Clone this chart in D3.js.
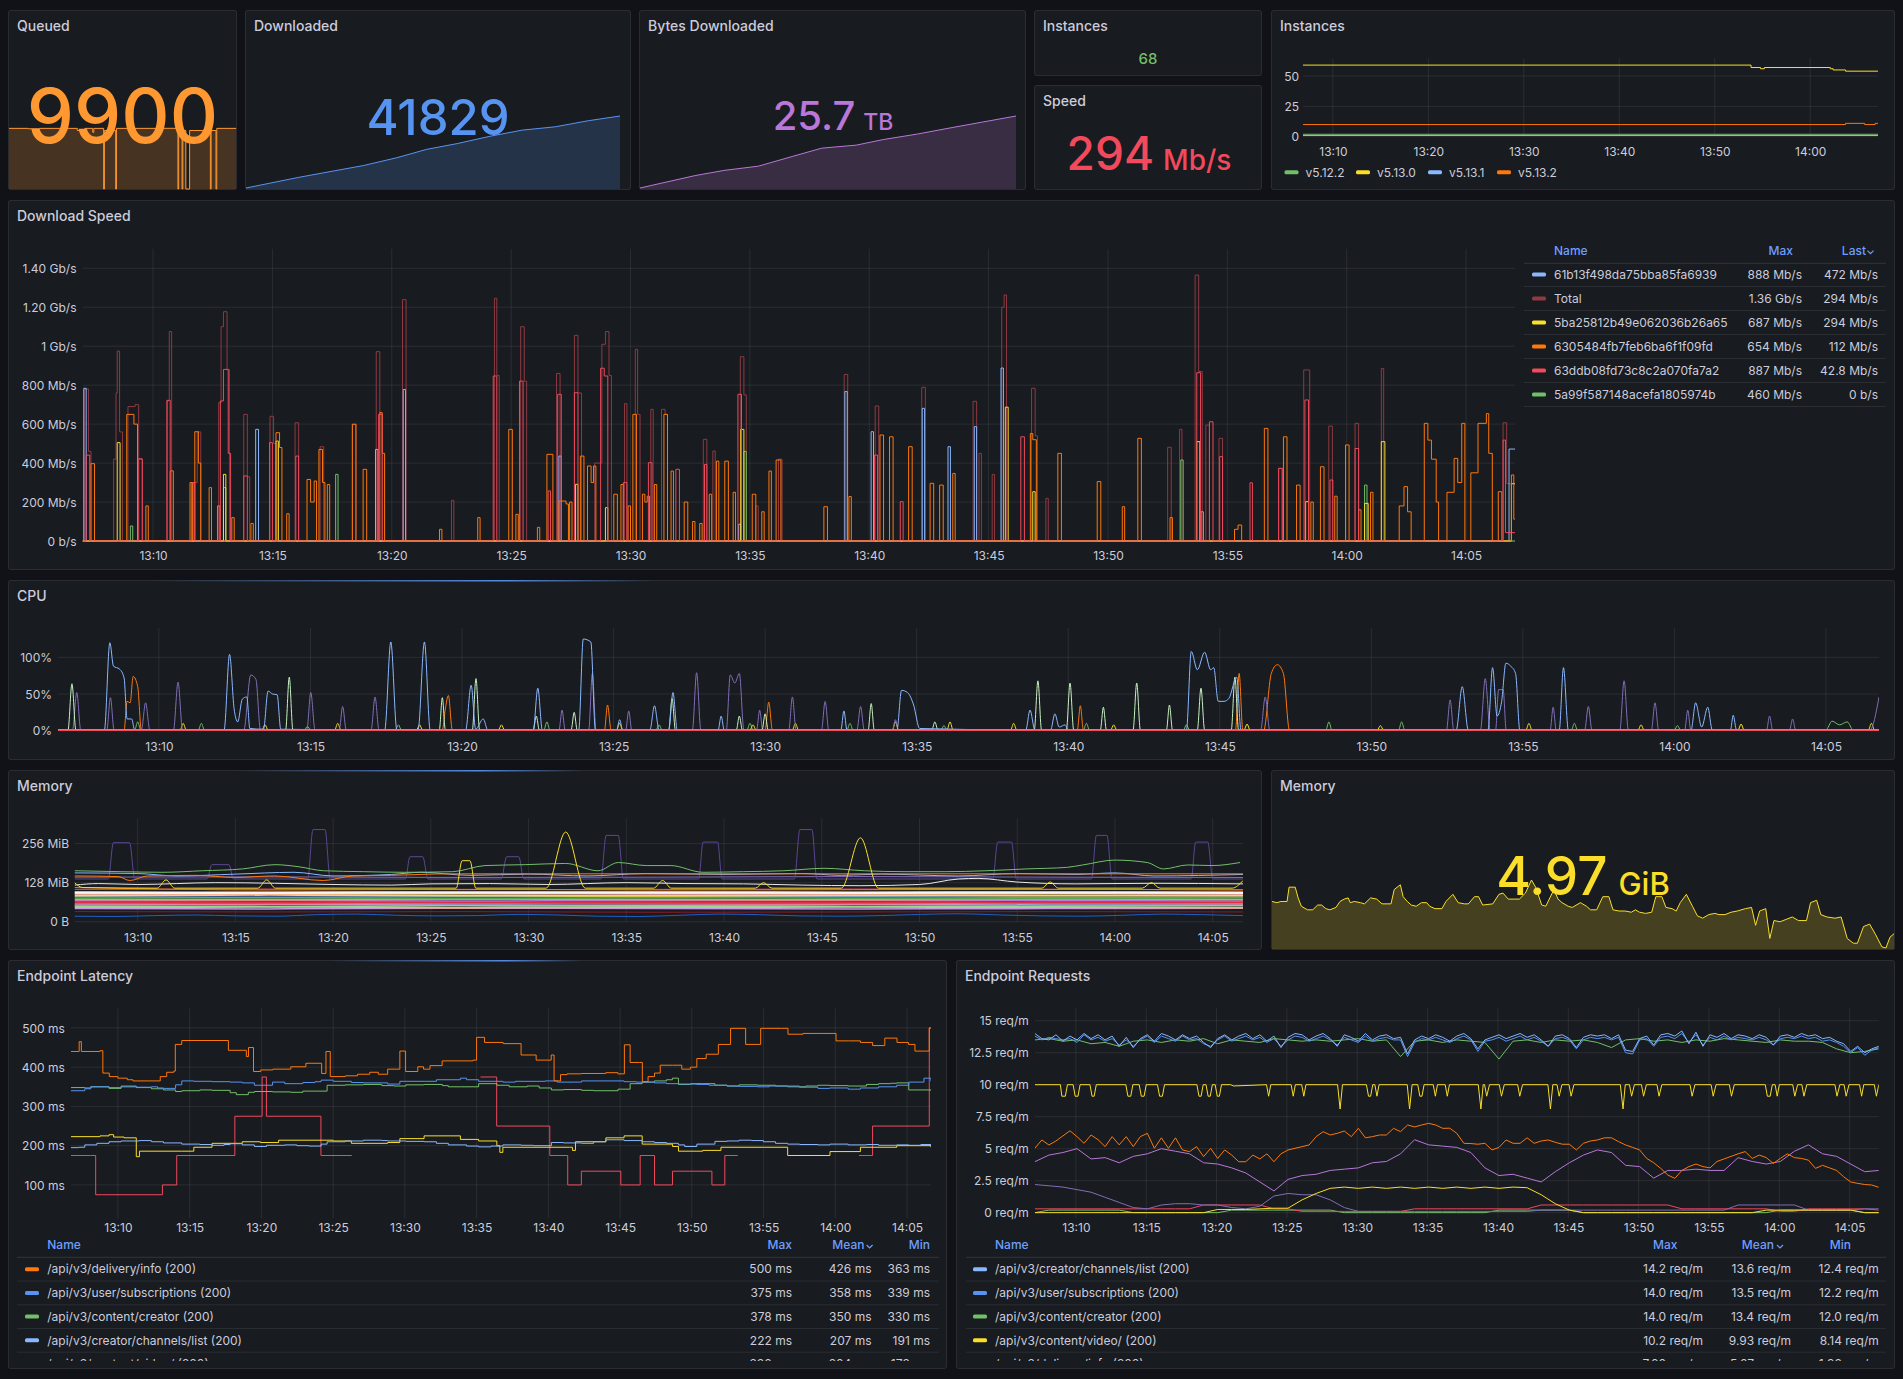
<!DOCTYPE html>
<html>
<head>
<meta charset="utf-8">
<script src="https://cdn.jsdelivr.net/npm/d3@7"></script>
<style>
  body { margin: 0; background: #111217; }
  svg text { font-family: Inter, "Noto Sans", sans-serif; }
</style>
</head>
<body>
<script>
// ---------- data (times are minutes after 13:00) ----------
const ticks5 = [10, 15, 20, 25, 30, 35, 40, 45, 50, 55, 60, 65];
const ticks5Labels = ["13:10", "13:15", "13:20", "13:25", "13:30", "13:35", "13:40", "13:45", "13:50", "13:55", "14:00", "14:05"];
const ticks10 = [10, 20, 30, 40, 50, 60];
const ticks10Labels = ["13:10", "13:20", "13:30", "13:40", "13:50", "14:00"];

const queuedLast = "9900";
const queued = [[6.9,9950],[12,9880],[15,9950],[22,9950],[25,9600],[27,9950],[29.1,9300],[29.4,9950],[32.0,0],[32.2,9600],[35.2,0],[35.4,9950],[46,9960],[51.7,0],[51.9,9600],[52.8,0],[53.0,9600],[53.8,0],[54.8,9600],[60.3,0],[60.5,9600],[61.8,0],[62.0,9950],[67.1,9900]];

const downloadedLast = "41829";
const downloaded = [[7,36057],[15.5,36915],[25.9,37862],[31.2,38485],[36,39157],[40.9,39619],[46.2,40210],[51.3,40696],[56.6,40963],[61.9,41449],[67,41829]];

const bytesLast = "25.7", bytesUnit = "TB";
const bytesTB = [[7,24.02],[15.8,24.31],[20.4,24.43],[25.9,24.53],[31.4,24.76],[36,24.95],[41.5,25.02],[45.8,25.15],[51.3,25.28],[56.8,25.43],[61.7,25.56],[67,25.7]];

const instancesNow = "68";
const speedLast = "294", speedUnit = "Mb/s";

const instanceVersions = ["v5.12.2", "v5.13.0", "v5.13.1", "v5.13.2"];
const instTicks = [0, 25, 50];
const instV5122 = [[6.87,2],[67.1,2]];
const instV5130 = [[6.87,59],[53.8,57],[54.8,56],[55.2,57],[62.1,56],[62.4,55],[63.7,54],[67.1,54]];
const instV5131 = [[6.87,1],[67.1,1]];
const instV5132 = [[6.87,10],[63.7,11],[65.7,10],[66.8,11],[67.1,11]];

// Download Speed (Mb/s)
const speedTicks = [0, 200, 400, 600, 800, 1000, 1200, 1400];
const speedTickLabels = ["0 b/s", "200 Mb/s", "400 Mb/s", "600 Mb/s", "800 Mb/s", "1 Gb/s", "1.20 Gb/s", "1.40 Gb/s"];
const speedNames = ["61b13f498da75bba85fa6939", "Total", "5ba25812b49e062036b26a65", "6305484fb7feb6ba6f1f09fd", "63ddb08fd73c8c2a070fa7a2", "5a99f587148acefa1805974b"];
const speedMax = ["888 Mb/s", "1.36 Gb/s", "687 Mb/s", "654 Mb/s", "887 Mb/s", "460 Mb/s"];
const speedLastCol = ["472 Mb/s", "294 Mb/s", "294 Mb/s", "112 Mb/s", "42.8 Mb/s", "0 b/s"];

const dsTotal = [[7.05,0],[7.12,780],[7.3,460],[7.4,0],[8.35,420],[8.45,760],[8.5,975],[8.6,560],[8.72,0],[8.95,690],[9.25,700],[9.4,420],[9.55,0],[10.6,720],[10.68,1075],[10.78,0],[11.7,300],[11.85,560],[12.0,0],[12.75,710],[12.85,1100],[12.95,1177],[13.1,880],[13.2,0],[13.8,650],[13.95,330],[14.05,0],[14.9,640],[15.05,500],[15.2,0],[15.95,607],[16.1,0],[17.0,484],[17.15,0],[18.35,600],[18.5,0],[19.35,972],[19.5,650],[19.6,0],[20.45,1239],[20.6,0],[22.5,209],[22.6,0],[24.3,1246],[24.4,850],[24.5,0],[25.4,1100],[25.55,820],[25.65,0],[26.9,860],[27.05,0],[27.65,1056],[27.8,760],[27.95,0],[28.5,400],[28.8,1010],[28.95,1075],[29.1,850],[29.2,0],[29.75,705],[29.85,0],[30.2,984],[30.3,650],[30.4,0],[30.85,676],[30.95,0],[31.3,676],[31.45,650],[31.55,0],[33.05,522],[33.2,0],[33.45,462],[33.55,0],[34.6,946],[34.75,750],[34.85,0],[35.25,180],[35.35,0],[36.2,420],[36.35,0],[38.95,855],[39.1,0],[40.25,693],[40.4,0],[42.2,789],[42.35,0],[44.35,717],[44.5,0],[44.6,450],[44.7,0],[45.15,342],[45.25,0],[45.55,1200],[45.65,1263],[45.75,0],[46.8,784],[46.95,540],[47.05,0],[47.4,219],[47.5,0],[52.5,481],[52.65,0],[53.0,573],[53.1,0],[53.65,1365],[53.8,870],[53.95,0],[54.1,595],[54.25,0],[54.65,527],[54.8,0],[57.15,373],[57.3,0],[58.2,878],[58.35,878],[58.45,0],[59.25,590],[59.4,0],[60.35,604],[60.5,0],[61.45,886],[61.55,0],[66.55,607],[66.7,294],[67.05,294]];
const dsRed = [[7.05,0],[7.2,441],[7.35,0],[9.4,422],[9.55,0],[10.58,722],[10.72,0],[11.62,300],[11.75,0],[12.82,719],[12.95,881],[13.15,450],[13.25,0],[13.8,334],[13.95,0],[14.88,505],[15.0,0],[15.98,436],[16.1,0],[19.45,650],[19.6,0],[24.25,847],[24.4,0],[25.35,821],[25.5,0],[26.55,257],[26.65,0],[26.95,753],[27.1,0],[27.65,761],[27.8,0],[28.75,887],[28.9,847],[29.05,0],[29.7,300],[29.85,0],[30.75,402],[30.9,0],[31.9,368],[32.05,0],[33.1,393],[33.2,0],[34.5,753],[34.65,0],[40.22,441],[40.35,0],[41.3,202],[41.42,0],[46.35,535],[46.5,0],[53.72,864],[53.88,0],[54.25,612],[54.4,0],[54.68,433],[54.8,0],[55.95,299],[56.05,0],[57.15,373],[57.3,0],[58.25,724],[58.4,0],[59.3,313],[59.42,0],[60.35,475],[60.5,0],[66.55,518],[66.65,42.8],[67.05,42.8]];
const dsOrange = [[7.05,0],[7.4,397],[7.55,0],[8.9,650],[9.2,600],[9.35,0],[9.7,180],[9.8,0],[10.72,360],[10.85,0],[11.55,300],[11.65,0],[11.75,561],[11.9,400],[12.0,0],[12.35,274],[12.45,0],[12.7,180],[12.8,0],[13.3,120],[13.4,0],[14.1,90],[14.2,0],[15.15,556],[15.3,480],[15.4,0],[15.6,140],[15.7,0],[16.45,316],[16.6,200],[16.75,308],[16.85,0],[16.95,470],[17.1,300],[17.2,0],[17.3,290],[17.4,0],[18.35,599],[18.5,0],[18.8,368],[18.95,0],[19.5,659],[19.6,450],[19.7,0],[22.0,60],[22.1,0],[23.6,120],[23.7,0],[24.9,573],[25.05,0],[25.2,137],[25.3,0],[26.1,70],[26.2,0],[26.5,445],[26.75,0],[27.0,205],[27.3,190],[27.4,0],[27.45,200],[27.55,0],[27.9,436],[28.05,0],[28.2,385],[28.35,300],[28.45,385],[28.55,0],[29.3,240],[29.45,0],[29.6,290],[29.7,0],[29.9,180],[30.0,0],[30.1,650],[30.25,0],[30.5,240],[30.6,200],[30.7,230],[30.8,0],[31.0,290],[31.1,0],[31.4,650],[31.55,0],[31.7,359],[31.8,0],[32.25,200],[32.4,0],[32.6,100],[32.7,0],[32.9,90],[33.0,0],[33.3,240],[33.4,0],[33.6,410],[33.7,0],[33.95,410],[34.1,0],[34.3,250],[34.4,0],[35.1,240],[35.25,0],[35.5,150],[35.6,0],[35.8,359],[35.9,0],[36.1,416],[36.3,0],[38.1,176],[38.25,0],[39.15,228],[39.25,0],[40.45,544],[40.6,0],[40.85,535],[41.0,0],[41.65,484],[41.8,0],[42.55,296],[42.7,0],[42.95,287],[43.1,0],[43.5,347],[43.6,0],[46.75,552],[46.85,520],[47.0,0],[47.9,450],[48.05,0],[49.55,305],[49.7,0],[50.6,176],[50.7,0],[51.25,527],[51.4,0],[52.6,120],[52.7,0],[55.3,60],[55.45,82],[55.6,0],[56.55,578],[56.7,0],[57.35,535],[57.5,0],[57.9,287],[58.05,0],[58.5,200],[58.6,0],[58.9,381],[59.05,0],[59.5,230],[59.6,0],[59.95,493],[60.1,0],[60.5,160],[60.6,0],[61.0,250],[61.1,0],[62.2,180],[62.4,279],[62.55,150],[62.7,0],[63.25,604],[63.4,518],[63.55,420],[63.75,200],[63.85,0],[64.2,250],[64.5,424],[64.65,300],[64.82,604],[64.95,0],[65.2,350],[65.5,604],[65.85,654],[65.95,450],[66.1,0],[66.35,253],[66.5,0],[66.9,339],[67.0,112],[67.05,112]];
const dsYellow = [[7.05,0],[8.5,505],[8.62,0],[12.95,342],[13.05,0],[15.15,513],[15.25,0],[27.7,291],[27.8,0],[28.95,171],[29.05,0],[34.62,573],[34.75,0],[45.7,687],[45.82,0],[46.85,253],[46.95,0],[53.72,510],[53.85,0],[58.28,202],[58.4,0],[60.75,193],[60.9,0],[61.45,510],[61.6,0],[66.9,294],[67.05,294]];
const dsBlue = [[7.05,0],[7.1,784],[7.2,0],[14.3,573],[14.42,0],[19.32,470],[19.42,0],[20.48,778],[20.58,0],[27.0,436],[27.1,0],[34.53,86],[34.62,0],[38.98,767],[39.08,0],[40.08,561],[40.18,0],[42.22,681],[42.32,0],[43.3,484],[43.4,0],[44.4,587],[44.5,0],[45.52,888],[45.62,0],[66.8,472],[67.05,472]];
const dsGreen = [[7.05,0],[9.05,77],[9.15,0],[12.95,274],[13.05,0],[17.65,342],[17.75,0],[34.75,460],[34.85,0],[53.05,416],[53.15,0],[53.9,150],[54.0,0],[60.75,287],[60.85,0],[67.05,0]];

// CPU (%)
const cpuTicks = [0, 50, 100];
const cpuTickLabels = ["0%", "50%", "100%"];
const cpuBlue = [[6.67,1],[8.2,1],[8.38,120],[8.5,88],[8.7,84],[8.85,72],[8.95,16],[9.1,16],[9.2,1],[12.15,1],[12.33,104],[12.48,30],[12.6,12],[12.75,43],[12.9,46],[13.0,3],[13.45,2],[13.6,54],[13.75,50],[13.9,49],[14.02,2],[17.45,1],[17.65,121],[17.85,1],[18.55,1],[18.76,121],[18.95,1],[20.12,1],[20.3,62],[20.45,2],[20.7,16],[20.85,1],[22.35,1],[22.5,58],[22.65,1],[23.85,1],[24.0,125],[24.25,121],[24.4,1],[25.1,1],[25.2,15],[25.3,1],[26.2,1],[26.35,34],[26.5,1],[26.82,1],[26.96,52],[27.1,1],[28.45,1],[28.55,20],[28.65,1],[32.5,1],[32.6,27],[32.7,1],[34.35,1],[34.5,55],[34.7,52],[34.9,35],[35.1,3],[38.6,1],[38.74,28],[38.9,1],[39.42,1],[39.56,23],[39.7,5],[39.9,8],[40.0,1],[43.9,1],[44.06,108],[44.26,83],[44.5,107],[44.7,83],[44.8,86],[44.95,40],[45.14,40],[45.3,44],[45.56,73],[45.7,1],[52.8,1],[53.0,60],[53.2,1],[53.85,1],[54.0,86],[54.15,20],[54.3,40],[54.44,92],[54.6,88],[54.76,78],[54.9,1],[56.2,1],[56.34,86],[56.5,1],[60.55,1],[60.7,38],[60.9,5],[61.1,32],[61.25,1],[61.85,1],[61.94,21],[62.05,1],[66.75,1]];
const cpuPurple = [[6.67,1],[7.15,1],[7.29,52],[7.42,1],[8.28,1],[8.4,45],[8.52,1],[9.42,1],[9.56,38],[9.7,1],[10.48,1],[10.63,66],[10.78,1],[12.8,1],[13.03,76],[13.2,70],[13.35,1],[14.88,1],[15.01,52],[15.15,1],[15.95,1],[16.06,33],[16.18,1],[17.0,1],[17.13,46],[17.26,1],[23.2,1],[23.3,28],[23.4,1],[24.18,1],[24.3,78],[24.42,1],[25.4,1],[25.5,27],[25.6,1],[27.6,1],[27.74,79],[27.88,1],[28.72,1],[28.85,76],[29.0,65],[29.15,78],[29.3,1],[29.72,1],[29.82,28],[29.92,1],[30.78,1],[30.9,46],[31.02,1],[31.86,1],[31.98,40],[32.1,1],[33.03,1],[33.15,33],[33.27,1],[34.2,1],[34.3,15],[34.4,1],[46.35,1],[46.5,46],[46.65,1],[52.48,1],[52.6,42],[52.72,1],[53.6,1],[53.76,71],[53.92,1],[54.1,1],[54.2,56],[54.35,56],[54.45,1],[55.9,1],[56.0,32],[56.1,1],[57.04,1],[57.16,33],[57.28,1],[58.2,1],[58.34,68],[58.48,1],[59.24,1],[59.36,38],[59.48,1],[60.34,1],[60.44,28],[60.54,1],[63.04,1],[63.14,20],[63.24,1],[63.8,1],[63.9,16],[64.0,1],[66.45,1],[66.75,46]];
const cpuCream = [[6.67,1],[7.0,1],[7.13,64],[7.26,1],[14.18,1],[14.3,73],[14.42,1],[19.25,1],[19.35,45],[19.45,1],[20.34,1],[20.46,71],[20.58,1],[22.35,1],[22.45,20],[22.55,1],[23.6,1],[23.7,25],[23.8,1],[26.82,1],[26.93,44],[27.04,1],[29.05,1],[29.15,20],[29.25,1],[29.9,1],[30.0,23],[30.1,1],[33.4,1],[33.5,37],[33.6,1],[35.5,1],[35.6,12],[35.7,1],[38.88,1],[39.0,68],[39.12,1],[39.94,1],[40.06,65],[40.18,1],[41.06,1],[41.16,32],[41.26,1],[42.14,1],[42.26,65],[42.38,1],[43.24,1],[43.34,35],[43.44,1],[44.26,1],[44.38,58],[44.5,1],[45.38,1],[45.5,73],[45.62,1],[66.75,1]];
const cpuOrange = [[6.67,1],[8.85,1],[8.95,40],[9.05,38],[9.15,74],[9.3,60],[9.42,1],[19.35,1],[19.45,30],[19.55,48],[19.68,1],[24.7,1],[24.8,35],[24.92,1],[30.0,1],[30.12,39],[30.24,1],[40.3,1],[40.4,34],[40.5,1],[45.52,1],[45.64,78],[45.76,1],[46.45,1],[46.7,78],[46.9,90],[47.1,78],[47.3,1],[66.75,1]];
const cpuYellow = [[6.67,1],[10.7,1],[10.8,10],[10.9,1],[13.4,1],[13.5,8],[13.6,1],[15.8,1],[15.9,10],[16.0,1],[18.5,1],[18.6,8],[18.7,1],[21.2,1],[21.3,8],[21.4,1],[25.1,1],[25.2,10],[25.3,1],[29.5,1],[29.6,8],[29.7,1],[30.9,1],[31.0,10],[31.1,1],[34.2,1],[34.3,12],[34.4,1],[36.0,1],[36.1,12],[36.2,1],[38.1,1],[38.2,10],[38.3,1],[41.4,1],[41.5,8],[41.6,1],[45.8,1],[45.9,9],[46.0,1],[50.2,1],[50.3,7],[50.4,1],[55.1,1],[55.2,10],[55.3,1],[58.8,1],[58.9,8],[59.0,1],[62.1,1],[62.2,9],[62.3,1],[66.4,1],[66.5,10],[66.6,1],[66.75,1]];
const cpuGreen = [[6.67,1],[9.2,1],[9.3,12],[9.4,1],[11.3,1],[11.4,10],[11.5,1],[14.8,1],[14.9,6],[15.0,1],[17.8,1],[17.9,8],[18.0,1],[22.7,1],[22.8,12],[22.9,1],[26.4,1],[26.5,8],[26.6,1],[29.4,1],[29.5,10],[29.6,1],[32.7,1],[32.8,10],[32.9,1],[35.8,1],[35.9,7],[36.0,1],[40.5,1],[40.6,10],[40.7,1],[43.8,1],[43.9,8],[44.0,1],[48.5,1],[48.6,12],[48.7,1],[50.9,1],[51.0,12],[51.1,1],[56.6,1],[56.7,10],[56.8,1],[60.0,1],[60.1,7],[60.2,1],[65.0,1],[65.2,13],[65.45,8],[65.7,12],[65.9,1],[66.75,1]];
const cpuRed = [[6.67,0.5],[66.75,0.5]];

// Memory (MiB)
const memTicks = [0, 128, 256];
const memTickLabels = ["0 B", "128 MiB", "256 MiB"];
const memPurpleSpike = [[6.77,140],[8.5,140],[8.76,259],[9.59,259],[9.85,140],[13.55,140],[13.8,187],[14.67,187],[14.9,140],[18.7,140],[18.97,302],[19.59,302],[19.85,140],[23.7,140],[23.93,213],[24.59,213],[24.85,140],[28.6,140],[28.88,213],[29.5,213],[29.75,140],[33.7,140],[33.97,283],[34.59,283],[34.85,140],[38.7,140],[38.93,261],[39.67,261],[39.9,140],[43.6,140],[43.88,302],[44.5,302],[44.75,140],[53.75,140],[54.0,261],[54.71,261],[54.95,140],[58.8,140],[59.05,283],[59.59,283],[59.85,140],[63.9,140],[64.13,261],[64.75,261],[65.0,140],[66.55,140]];
const memYellow = [[6.77,128],[7.2,112],[11.0,110],[11.45,137],[11.9,110],[16.15,110],[16.6,137],[17.05,110],[26.3,110],[26.6,200],[27.0,200],[27.3,110],[30.9,110],[31.9,294],[32.9,110],[36.4,110],[36.86,135],[37.3,110],[41.6,110],[42.02,128],[42.45,110],[46.0,110],[46.98,275],[47.9,110],[56.25,110],[56.69,130],[57.1,110],[61.4,110],[61.86,128],[62.3,110],[66.0,110],[66.55,135]];
const memGreen = [[6.78,167],[9.17,164],[11.24,162],[13.31,167],[15.37,173],[17.02,187],[18.26,180],[19.5,167],[21.57,164],[23.64,162],[26.12,164],[27.77,184],[29.83,187],[31.9,191],[33.55,167],[34.59,194],[36.03,184],[37.27,184],[38.93,162],[40.99,164],[43.06,167],[45.12,175],[47.19,167],[49.26,164],[51.32,164],[53.39,167],[55.45,173],[57.52,178],[58.35,186],[60.0,202],[61.65,194],[62.48,173],[63.72,186],[64.96,184],[66.4,194]];
const memOrange = [[6.77,150],[9,148],[9.6,135],[10.5,150],[13,152],[15,145],[17,150],[19.5,135],[21,150],[23,152],[26,157],[30,157],[40,157],[50,157],[60,157],[66.55,157]];
const memLightBlue = [[6.77,160],[10,158],[12,150],[15,156],[18,162],[20,150],[23,155],[24.5,162],[27,152],[30,156],[33,150],[36,158],[40,155],[44,158],[46,152],[48,156],[52,150],[55,158],[58,155],[60,160],[62,150],[66.55,155]];
const memWhite = [[6.77,120],[8,125],[10,122],[14,128],[17,126],[20,122],[23,120],[25,124],[28,125],[31,122],[35,128],[38,125],[41,124],[44,120],[47,118],[50,122],[52,140],[53,142],[55,130],[58,124],[62,126],[66.55,124]];
const memPurpleFlat = [146, 147, 145, 146, 148, 146, 145];
const memRedLine = [106, 107, 105, 106, 107, 106, 105];
const memOrangeLine = [112, 104, 106, 104, 105, 106, 104];
const memBandTop = [96, 95, 96, 96, 95, 96, 95];
const memBandPink = [92, 92, 93, 92, 92, 93, 92];
const memBandYellow = [86, 88, 86, 85, 87, 86, 86];
const memBandBlue = [82, 80, 82, 81, 82, 80, 81];
const memBandGreen = [77, 78, 76, 78, 77, 76, 78];
const memBandOrange = [73, 72, 74, 73, 72, 74, 73];
const memBandPurple = [69, 70, 68, 69, 70, 69, 68];
const memBandRed = [63, 64, 63, 62, 64, 63, 64];
const memBandRose = [59, 58, 60, 59, 58, 60, 59];
const memBandSky = [55, 56, 55, 54, 56, 55, 55];
const memBandLime = [51, 50, 52, 51, 50, 51, 52];
const memBandGold = [47, 48, 46, 47, 48, 47, 46];
const memBandLavender = [43, 42, 44, 43, 42, 43, 44];
const memDarkRed = [33, 32, 33, 31, 32, 33, 32];
const memDarkBlue = [18, 17, 20, 22, 19, 18, 23, 25, 21, 19, 20, 24, 22, 18, 17, 21, 25, 23, 19, 18, 20, 24, 26, 22, 19, 18, 21, 25, 23, 20];

const memoryLast = "4.97", memoryUnit = "GiB";
const memoryTotal = [[7.0,5.24],[7.47,5.23],[7.86,5.24],[8.45,5.24],[8.65,5.36],[9.24,5.36],[9.52,5.27],[9.83,5.2],[10.42,5.17],[10.93,5.17],[11.4,5.21],[11.79,5.21],[12.19,5.18],[12.58,5.17],[13.17,5.19],[13.56,5.24],[13.96,5.26],[14.35,5.27],[14.55,5.23],[14.94,5.24],[15.53,5.23],[15.92,5.22],[16.51,5.27],[17.1,5.26],[17.61,5.22],[18.48,5.22],[18.79,5.34],[19.38,5.38],[19.65,5.28],[20.05,5.24],[20.44,5.21],[20.91,5.2],[21.42,5.23],[21.93,5.23],[22.21,5.2],[22.72,5.18],[23.39,5.18],[23.78,5.24],[24.45,5.3],[24.96,5.23],[25.55,5.22],[25.94,5.22],[26.53,5.28],[26.93,5.28],[27.32,5.21],[28.3,5.22],[28.89,5.3],[29.28,5.31],[29.79,5.26],[30.27,5.26],[30.86,5.26],[31.44,5.31],[32.03,5.42],[32.43,5.36],[33.02,5.21],[33.41,5.2],[33.8,5.27],[34.2,5.34],[34.59,5.26],[34.98,5.23],[35.57,5.2],[35.96,5.19],[36.75,5.23],[37.34,5.2],[37.73,5.17],[38.32,5.17],[38.91,5.28],[39.5,5.28],[39.89,5.17],[40.48,5.16],[41.07,5.16],[41.66,5.15],[42.06,5.17],[42.45,5.15],[43.04,5.14],[43.63,5.15],[44.02,5.28],[44.61,5.28],[45.0,5.19],[45.59,5.18],[45.99,5.16],[46.38,5.23],[46.97,5.3],[47.56,5.2],[48.03,5.12],[48.54,5.1],[49.13,5.13],[49.72,5.14],[50.11,5.13],[50.7,5.13],[51.29,5.15],[51.88,5.16],[52.67,5.18],[53.26,5.19],[53.65,5.04],[54.04,5.16],[54.63,5.18],[55.02,4.93],[55.42,5.08],[56.01,5.07],[56.6,5.09],[57.19,5.11],[57.78,5.08],[58.56,5.08],[58.95,5.23],[59.54,5.25],[59.94,5.13],[60.53,5.11],[61.31,5.1],[61.9,5.11],[62.49,4.93],[63.08,4.89],[63.47,4.89],[64.06,5.03],[64.65,5.05],[65.24,4.96],[65.83,4.86],[66.22,4.85],[66.61,4.94],[67.0,4.97]];

// Endpoint Latency (ms)
const latTicks = [100, 200, 300, 400, 500];
const latTickLabels = ["100 ms", "200 ms", "300 ms", "400 ms", "500 ms"];
const latNames = ["/api/v3/delivery/info (200)", "/api/v3/user/subscriptions (200)", "/api/v3/content/creator (200)", "/api/v3/creator/channels/list (200)", "/api/v3/content/video/ (200)"];
const latMax = ["500 ms", "375 ms", "378 ms", "222 ms", "230 ms"];
const latMean = ["426 ms", "358 ms", "350 ms", "207 ms", "204 ms"];
const latMin = ["363 ms", "339 ms", "330 ms", "191 ms", "172 ms"];
const latDelivery = [[6.72,440],[7.3,465],[7.45,440],[8.75,442],[8.95,385],[9.4,376],[10.0,372],[10.65,368],[11.05,365],[12.95,376],[13.4,387],[13.9,390],[14.0,458],[14.45,468],[17.7,443],[18.65,443],[18.95,427],[19.1,450],[19.45,389],[19.95,393],[20.8,395],[22.05,401],[23.1,410],[24.2,384],[24.5,440],[24.8,376],[25.85,378],[26.7,382],[27.55,387],[28.15,382],[28.8,395],[29.65,441],[30.05,389],[30.9,401],[31.3,395],[31.75,404],[32.6,416],[34.75,418],[35.0,476],[35.55,463],[36.85,460],[38.1,431],[39.15,418],[40.2,431],[40.4,365],[40.85,381],[41.3,383],[42.3,384],[44.0,386],[44.85,383],[45.3,457],[45.7,412],[46.35,412],[46.55,363],[46.95,376],[47.4,385],[47.8,405],[48.65,405],[49.3,395],[49.9,400],[50.35,422],[51.0,433],[51.85,458],[52.7,499],[53.5,499],[53.75,458],[54.55,458],[54.8,499],[56.25,499],[56.7,484],[57.75,486],[58.8,486],[60.05,467],[60.9,467],[61.75,463],[62.6,455],[63.45,474],[64.3,463],[65.1,458],[65.55,441],[66.2,441],[66.55,500],[66.67,500]];
const latSubs = [[6.72,340],[7.69,345],[8.11,350],[9.38,348],[10.22,352],[11.28,349],[12.33,350],[12.76,347],[13.18,346],[14.02,355],[14.45,365],[15.29,364],[16.56,363],[17.82,362],[18.67,360],[19.51,354],[20.78,362],[21.63,358],[22.89,361],[23.74,363],[24.16,367],[25.0,364],[26.27,361],[27.11,360],[28.8,357],[29.65,364],[31.34,364],[32.2,368],[33.87,372],[34.3,368],[35.14,364],[36.83,362],[37.7,364],[39.78,365],[40.63,362],[42.32,365],[44.01,365],[45.28,363],[46.12,362],[47.39,360],[48.23,358],[49.07,357],[50.35,356],[51.2,354],[52.45,352],[53.3,351],[54.57,350],[55.4,352],[56.68,352],[57.5,349],[58.79,346],[59.6,347],[60.9,344],[61.75,347],[63.01,350],[64.28,354],[65.12,362],[66.18,372],[66.67,364]];
const latCreator = [[6.72,348],[7.69,347],[8.11,350],[9.38,346],[10.22,350],[11.28,348],[12.33,345],[13.18,342],[14.02,338],[14.45,340],[15.71,342],[16.56,341],[17.82,335],[18.25,330],[19.09,336],[19.51,338],[20.78,337],[22.05,336],[22.89,339],[24.58,354],[25.85,355],[27.11,356],[28.39,353],[29.23,352],[30.07,355],[31.34,356],[32.61,353],[33.03,350],[33.87,350],[35.14,358],[36.41,354],[37.27,350],[38.52,352],[39.36,347],[40.21,342],[41.05,343],[42.32,341],[43.16,340],[44.01,340],[44.86,344],[45.7,358],[46.54,362],[47.39,365],[48.23,368],[48.65,372],[49.07,356],[49.92,358],[50.76,358],[51.61,354],[52.45,352],[53.3,355],[54.57,354],[55.83,352],[56.68,350],[57.94,352],[58.79,354],[59.63,353],[60.9,352],[62.17,356],[63.01,358],[63.86,359],[64.28,360],[65.12,342],[66.67,340]];
const latChannels = [[6.72,195],[7.27,196],[7.69,202],[8.53,206],[9.38,210],[10.22,212],[11.49,213],[12.33,210],[13.18,207],[14.45,204],[15.71,203],[16.56,201],[17.4,203],[17.82,205],[18.67,202],[19.51,198],[20.36,201],[21.63,202],[22.47,200],[23.31,199],[24.16,204],[24.58,210],[25.85,212],[27.11,214],[28.39,213],[28.8,212],[30.07,211],[31.34,210],[32.2,206],[33.03,202],[34.3,199],[35.14,197],[36.0,199],[36.83,202],[38.1,201],[38.94,200],[40.21,208],[41.05,207],[42.32,206],[43.16,210],[44.01,215],[45.28,213],[46.54,210],[47.39,208],[48.23,206],[49.07,202],[49.5,198],[50.35,204],[51.61,211],[52.45,212],[53.3,214],[54.15,213],[54.99,210],[55.83,206],[56.68,204],[57.52,203],[58.79,202],[59.63,204],[60.9,202],[62.17,203],[63.01,201],[64.28,202],[65.12,201],[65.96,203],[66.67,198]];
const latVideo = [[6.72,223],[8.75,225],[9.38,228],[9.7,222],[10.43,220],[11.28,172],[11.5,186],[14.45,186],[15.29,196],[16.56,206],[18.67,210],[19.93,208],[21.2,214],[23.74,214],[25.0,212],[26.27,206],[28.8,208],[29.65,218],[31.34,225],[33.87,216],[35.14,212],[36.41,200],[36.62,183],[36.83,196],[41.47,196],[41.68,188],[41.89,210],[44.01,220],[45.28,225],[46.54,204],[48.65,198],[49.07,186],[50.76,188],[52.03,196],[54.99,196],[56.68,175],[59.63,185],[61.75,196],[64.28,200],[66.67,196]];
const latRed = [[6.72,175],[8.1,175],[8.45,75],[13.1,100],[14.1,175],[18.15,275],[20.05,375],[20.35,275],[24.15,175],[26.3,175],[26.31,null],[35.27,375],[36.4,250],[40.1,175],[41.35,100],[42.3,135],[45.05,100],[46.4,175],[47.4,100],[48.65,135],[51.4,100],[52.3,175],[53.2,175],[53.21,null],[61.65,175],[62.6,250],[66.3,250],[66.55,500],[66.67,500]];

// Endpoint Requests (req/m), 0.5 min and 1 min grids from 13:07
const reqTicks = [0, 2.5, 5, 7.5, 10, 12.5, 15];
const reqTickLabels = ["0 req/m", "2.5 req/m", "5 req/m", "7.5 req/m", "10 req/m", "12.5 req/m", "15 req/m"];
const reqNames = ["/api/v3/creator/channels/list (200)", "/api/v3/user/subscriptions (200)", "/api/v3/content/creator (200)", "/api/v3/content/video/ (200)", "/api/v3/delivery/info (200)"];
const reqMax = ["14.2 req/m", "14.0 req/m", "14.0 req/m", "10.2 req/m", "7.00 req/m"];
const reqMean = ["13.6 req/m", "13.5 req/m", "13.4 req/m", "9.93 req/m", "5.07 req/m"];
const reqMin = ["12.4 req/m", "12.2 req/m", "12.0 req/m", "8.14 req/m", "1.98 req/m"];
const reqChannels = [14.0,13.6,13.5,13.9,13.4,13.8,13.5,14.0,13.6,13.9, 13.5,13.8,13.0,13.7,12.9,13.6,13.9,13.4,14.0,13.8, 13.5,13.9,13.6,13.8,13.3,12.9,13.6,13.9,13.5,13.8, 14.0,13.6,13.9,13.4,13.8,12.9,13.7,14.0,13.9,13.5, 13.8,14.0,13.6,13.0,13.9,13.7,13.4,14.0,13.5,13.8, 13.9,13.6,13.7,12.4,13.5,13.8,13.6,13.9,13.7,13.4, 13.8,14.0,13.6,12.8,13.5,13.7,13.9,13.6,13.8,14.0, 13.7,13.9,13.5,13.0,13.8,13.9,13.6,12.9,13.7,13.9, 13.8,13.9,13.6,13.9,12.7,12.6,13.6,13.8,13.1,13.9, 14.0,13.8,14.2,13.2,14.1,13.0,13.9,13.7,14.0,13.6, 13.9,13.8,13.6,13.9,13.7,13.1,13.8,13.9,13.7,14.0, 13.8,13.9,13.6,13.7,13.4,13.2,12.6,13.0,12.5,12.8, 13.0];
const reqSubs = [13.8,13.5,13.7,13.6,13.5,13.6,13.3,13.9,13.5,13.7, 13.4,13.6,13.1,13.5,13.0,13.5,13.8,13.3,13.8,13.6, 13.4,13.8,13.5,13.6,13.2,13.0,13.5,13.8,13.4,13.6, 13.8,13.5,13.7,13.3,13.6,13.0,13.5,13.8,13.7,13.4, 13.6,13.8,13.5,13.1,13.7,13.5,13.3,13.8,13.4,13.6, 13.7,13.5,13.5,12.2,13.3,13.6,13.5,13.7,13.5,13.3, 13.6,13.8,13.5,12.6,13.4,13.5,13.7,13.4,13.6,13.8, 13.5,13.7,13.4,13.0,13.6,13.7,13.5,12.8,13.5,13.7, 13.6,13.7,13.5,13.7,12.5,12.4,13.5,13.6,13.0,13.7, 13.8,13.6,14.0,13.3,13.9,13.1,13.7,13.5,13.8,13.5, 13.7,13.6,13.5,13.7,13.5,13.1,13.6,13.7,13.6,13.8, 13.6,13.7,13.4,13.5,13.3,13.0,12.5,12.9,12.3,12.7, 12.9];
const reqCreator = [13.5,13.6,13.4,13.5,13.2,13.3,13.0,13.4,13.5,13.3, 13.5,13.4,13.6,13.2,13.5,13.4,13.3,13.6,13.5,13.4, 13.5,13.4,13.5,13.6,13.4,13.5,12.2,13.4,13.5,13.3, 13.5,13.4,13.3,12.0,13.4,13.5,13.3,13.5,13.4,13.5, 13.3,12.9,13.5,13.6,13.4,13.5,13.3,13.5,13.4,13.6, 13.5,13.4,13.3,13.5,13.4,13.4,13.3,12.8,12.5,12.6, 12.8];
const reqVideo = [[7.08,10],[8.9,10],[9.0,9.1],[9.25,9.1],[9.4,10],[9.8,10],[9.95,9.1],[10.15,9.1],[10.3,10],[11.0,10],[11.15,9.1],[11.3,9.1],[11.45,10],[13.55,10],[13.7,9.1],[13.9,9.1],[14.05,10],[14.5,10],[14.65,9.1],[14.85,9.1],[15.0,10],[15.8,10],[15.95,9.1],[16.15,9.1],[16.3,10],[18.6,10],[18.75,9.1],[18.9,9.1],[19.05,10],[19.25,10],[19.4,9.1],[19.55,9.1],[19.7,10],[19.9,10],[20.05,9.1],[20.2,9.1],[20.35,10],[21.0,10],[21.2,9.9],[23.55,10],[23.7,9.1],[23.85,10],[25.3,10],[25.45,9.1],[25.6,10],[26.05,10],[26.2,9.1],[26.35,10],[28.6,10],[28.78,8.1],[28.95,10],[30.65,10],[30.8,9.1],[30.95,9.1],[31.1,10],[31.25,10],[31.4,9.1],[31.55,10],[33.55,10],[33.72,8.1],[33.9,10],[34.3,10],[34.45,9.1],[34.6,9.1],[34.75,10],[35.4,10],[35.55,9.1],[35.7,10],[36.25,10],[36.4,9.1],[36.55,10],[38.6,10],[38.79,8.1],[38.95,10],[39.05,10],[39.2,9.1],[39.4,10],[40.1,10],[40.25,9.1],[40.45,10],[41.4,10],[41.55,9.1],[41.75,10],[43.55,10],[43.73,8.1],[43.9,10],[44.2,10],[44.35,9.1],[44.55,10],[45.05,10],[45.2,9.1],[45.4,10],[48.7,10],[48.89,8.1],[49.05,10],[49.35,10],[49.5,9.1],[49.7,10],[50.2,10],[50.35,9.1],[50.55,10],[51.3,10],[51.45,9.1],[51.65,10],[53.65,10],[53.8,9.1],[54.0,10],[55.15,10],[55.3,9.1],[55.5,10],[56.45,10],[56.6,9.1],[56.8,10],[59.0,10],[59.15,9.1],[59.35,9.1],[59.5,10],[59.7,10],[59.85,9.1],[60.0,10],[60.95,10],[61.1,9.1],[61.3,10],[61.6,10],[61.75,9.1],[61.95,10],[63.95,10],[64.1,9.1],[64.3,10],[64.6,10],[64.75,9.1],[64.95,10],[65.7,10],[65.85,9.1],[66.0,10],[66.75,10],[66.9,9.1],[67.07,10]];
const reqDelivery = [5.03,5.68,5.29,5.6,6.0,6.4,5.94,5.42,6.07,5.7, 5.16,5.94,5.3,5.94,5.16,5.94,6.2,5.03,5.85,5.03, 5.85,4.9,4.77,5.16,4.38,5.03,4.24,4.9,4.5,3.98, 3.98,4.5,4.2,4.6,3.98,4.6,4.9,5.03,5.16,5.29, 5.94,6.33,6.07,6.2,6.38,5.94,6.59,5.85,5.94,6.07, 6.07,6.59,6.33,6.85,6.7,6.85,6.98,6.85,6.59,6.6, 6.2,5.42,5.4,5.35,5.42,4.9,5.1,5.68,5.42,5.42, 5.85,5.42,5.6,5.68,5.5,5.35,5.35,4.9,5.42,5.6, 5.68,5.85,5.85,5.55,5.29,5.1,4.9,4.24,3.9,3.46, 2.94,2.68,3.3,3.6,3.8,3.6,3.5,4.0,4.2,4.4, 4.6,4.77,4.24,4.5,4.3,3.85,4.24,4.6,4.3,4.24, 4.1,3.46,3.7,3.5,3.3,2.81,2.4,2.29,2.2,2.16, 1.98];
const reqPurple = [3.98,4.5,4.7,5.0,4.2,4.3,3.9,4.4,4.6,5.0, 4.8,4.6,3.9,3.8,3.5,3.1,2.4,1.7,2.6,2.9, 3.0,3.3,3.4,3.5,3.9,4.0,4.6,5.7,5.3,5.2, 5.1,4.7,3.5,2.9,3.0,2.7,2.4,3.2,3.9,4.5, 4.9,4.7,3.7,3.6,2.7,3.3,3.3,3.4,3.3,3.3, 4.3,4.0,3.8,4.0,4.8,5.3,4.6,4.4,3.8,3.2, 3.3];
const reqDarkPurple = [2.2,2.1,2.0,1.8,1.6,1.2,0.8,0.4,0.3,0.6, 0.7,0.7,0.6,0.6,0.4,0.3,0.5,1.3,1.5,1.4, 1.4,1.0,0.4,0.1,0.1,0.1,0.1,0.1,0.1,0.1, 0.1,0.1,0.1,0.1,0.1,0.1,0.2,0.2,0.2,0.2, 0.2,0.2,0.2,0.2,0.2,0.2,0.2,0.2,0.2,0.2, 0.6,0.6,0.6,0.6,0.6,0.2,0.2,0.2,0.2,0.3, 0.3];
const reqRed = [0.3,0.3,0.3,0.3,0.3,0.3,0.3,0.3,0.3,0.3, 0.3,0.3,0.6,0.6,0.6,0.6,0.6,0.3,0.3,0.1, 0.1,0.1,0.1,0.1,0.1,0.1,0.1,0.3,0.3,0.3, 0.3,0.3,0.3,0.3,0.3,0.3,0.6,0.6,0.6,0.6, 0.6,0.6,0.6,0.6,0.6,0.6,0.3,0.3,0.3,0.3, 0.3,0.3,0.3,0.1,0.1,0.3,0.3,0.3,0.3,0.3, 0.2];
const reqLowYellow = [0,0,0,0,0,0,0,0,0,0, 0,0,0,0.25,0.25,0.25,0.3,0.35,0.35,1.0, 1.5,1.9,2.0,1.9,2.0,1.9,2.0,1.9,2.0,1.9, 2.0,1.9,2.0,1.9,2.0,1.95,1.4,0.7,0.2,0, 0,0,0,0,0,0,0,0,0,0, 0,0,0.2,0.2,0.2,0.2,0.2,0.2,0.2,0, 0];
const reqLowGreen = [0,0.2,0.2,0.2,0.2,0.2,0.2,0,0,0, 0,0,0,0,0.2,0.2,0.2,0.2,0.2,0.2, 0.2,0.2,0,0,0,0,0,0,0,0, 0,0,0,0.2,0.2,0.2,0.2,0.2,0.2,0, 0,0,0,0,0,0,0,0,0,0, 0,0,0,0.2,0.2,0.2,0.2,0.2,0.2,0, 0];

// ---------- drawing ----------
const TEXT = "#ccccdc", GRID = "rgba(204,204,220,0.1)", HEAD = "#6e9fff";
const svg = d3.select("body").append("svg").attr("width", 1903).attr("height", 1379);
const defs = svg.append("defs");
const lg = defs.append("linearGradient").attr("id", "loadbar");
lg.append("stop").attr("offset", "0%").attr("stop-color", "#5794f2").attr("stop-opacity", 0);
lg.append("stop").attr("offset", "70%").attr("stop-color", "#5794f2").attr("stop-opacity", 0.9);
lg.append("stop").attr("offset", "100%").attr("stop-color", "#5794f2").attr("stop-opacity", 0);

function panel(x, y, w, h, title) {
  svg.append("rect").attr("x", x + 0.5).attr("y", y + 0.5).attr("width", w - 1).attr("height", h - 1)
    .attr("rx", 2).attr("fill", "#181b1f").attr("stroke", "rgba(204,204,220,0.12)");
  svg.append("text").attr("x", x + 9).attr("y", y + 21).attr("fill", TEXT)
    .attr("font-size", 14).attr("font-weight", 500).text(title);
}

function loadBar(x0, x1, y) {
  svg.append("rect").attr("x", x0).attr("y", y).attr("width", x1 - x0).attr("height", 1.5).attr("fill", "url(#loadbar)");
}

let clipId = 0;
function timeChart(o) {
  const x = d3.scaleLinear().domain(o.t).range([o.left, o.right]);
  const y = d3.scaleLinear().domain(o.y).range([o.bottom, o.top]);
  const g = svg.append("g");
  g.selectAll(null).data(o.yTicks).join("line")
    .attr("x1", o.left).attr("x2", o.right).attr("y1", d => y(d)).attr("y2", d => y(d)).attr("stroke", GRID);
  g.selectAll(null).data(o.xTicks).join("line")
    .attr("x1", d => x(d)).attr("x2", d => x(d)).attr("y1", o.top).attr("y2", o.bottom).attr("stroke", GRID);
  g.append("g").attr("transform", `translate(${o.labelX},0)`)
    .call(d3.axisLeft(y).tickValues(o.yTicks).tickFormat((d, i) => o.yLabels[i]).tickSize(0).tickPadding(0))
    .call(s => s.select(".domain").remove())
    .attr("font-family", null).attr("font-size", 12).attr("color", TEXT)
    .selectAll("text").attr("dy", "0.35em");
  g.append("g").attr("transform", `translate(0,${o.xLabelY})`)
    .call(d3.axisBottom(x).tickValues(o.xTicks).tickFormat((d, i) => o.xLabels[i]).tickSize(0).tickPadding(0))
    .call(s => s.select(".domain").remove())
    .attr("font-family", null).attr("font-size", 12).attr("color", TEXT)
    .selectAll("text").attr("dy", "0.35em");
  const id = "clip" + (clipId++);
  defs.append("clipPath").attr("id", id).append("rect")
    .attr("x", o.left).attr("y", o.top - 2).attr("width", o.right - o.left).attr("height", o.bottom - o.top + 4);
  const plot = svg.append("g").attr("clip-path", `url(#${id})`);
  return { x, y, plot };
}

function drawPairs(ch, data, color, curve, width, opacity) {
  const line = d3.line().defined(d => d[1] !== null)
    .x(d => ch.x(d[0])).y(d => ch.y(d[1])).curve(curve || d3.curveLinear);
  ch.plot.append("path").datum(data).attr("d", line).attr("fill", "none")
    .attr("stroke", color).attr("stroke-width", width || 1).attr("stroke-opacity", opacity || 1);
}
function drawEven(ch, values, color, curve, width, opacity) {
  const [t0, t1] = ch.x.domain();
  const step = (t1 - t0) / (values.length - 1);
  drawPairs(ch, values.map((v, i) => [t0 + i * step, v]), color, curve, width, opacity);
}

function sparkline(data, tDom, xr, yr, base, color, curve) {
  const x = d3.scaleLinear().domain(tDom).range(xr);
  const y = d3.scaleLinear().domain(d3.extent(data, d => d[1])).range(yr);
  svg.append("path").datum(data)
    .attr("d", d3.area().x(d => x(d[0])).y0(base).y1(d => y(d[1])).curve(curve))
    .attr("fill", color).attr("fill-opacity", 0.2);
  svg.append("path").datum(data)
    .attr("d", d3.line().x(d => x(d[0])).y(d => y(d[1])).curve(curve))
    .attr("fill", "none").attr("stroke", color).attr("stroke-width", 1);
}

function statValue(cx, base, value, unit, color, size, unitSize, gap) {
  const t = svg.append("text").attr("x", cx).attr("y", base).attr("text-anchor", "middle")
    .attr("fill", color).attr("font-weight", 500);
  t.append("tspan").attr("font-size", size).text(value);
  if (unit) t.append("tspan").attr("font-size", unitSize).attr("dx", gap).text(unit);
}

function chevron(cx, cy) {
  svg.append("path").attr("d", `M${cx - 3},${cy - 1.5}L${cx},${cy + 1.5}L${cx + 3},${cy - 1.5}`)
    .attr("fill", "none").attr("stroke", HEAD).attr("stroke-width", 1.2);
}

// o: lineX0, lineX1, headY, underY, rowY0, pitch, swatchX, nameX, cols [{head, hx, vx, values, sort}], colors, names, clipBottom
function legendTable(o) {
  const g = svg.append("g");
  if (o.clipBottom) {
    const id = "clip" + (clipId++);
    defs.append("clipPath").attr("id", id).append("rect")
      .attr("x", o.lineX0).attr("y", o.headY - 10).attr("width", o.lineX1 - o.lineX0).attr("height", o.clipBottom - o.headY + 10);
    g.attr("clip-path", `url(#${id})`);
  }
  g.append("text").attr("x", o.nameX).attr("y", o.headY).attr("dy", "0.35em").attr("fill", HEAD)
    .attr("font-size", 12).attr("font-weight", 500).text("Name");
  o.cols.forEach(c => {
    g.append("text").attr("x", c.hx).attr("y", o.headY).attr("dy", "0.35em").attr("text-anchor", "end")
      .attr("fill", HEAD).attr("font-size", 12).attr("font-weight", 500).text(c.head);
    if (c.sort) chevron(c.sort, o.headY + 1.5);
  });
  g.append("line").attr("x1", o.lineX0).attr("x2", o.lineX1).attr("y1", o.underY).attr("y2", o.underY)
    .attr("stroke", "rgba(204,204,220,0.15)");
  const rows = g.selectAll(null).data(o.names).join("g")
    .attr("transform", (d, i) => `translate(0,${o.rowY0 + i * o.pitch})`);
  rows.append("rect").attr("x", o.swatchX).attr("y", -2).attr("width", 14).attr("height", 4).attr("rx", 1.5)
    .attr("fill", (d, i) => o.colors[i]);
  rows.append("text").attr("x", o.nameX).attr("dy", "0.35em").attr("fill", TEXT).attr("font-size", 12).text(d => d);
  o.cols.forEach(c => {
    rows.append("text").attr("x", c.vx).attr("dy", "0.35em").attr("text-anchor", "end")
      .attr("fill", TEXT).attr("font-size", 12).text((d, i) => c.values[i]);
  });
  rows.append("line").attr("x1", o.lineX0).attr("x2", o.lineX1).attr("y1", o.pitch / 2).attr("y2", o.pitch / 2)
    .attr("stroke", "rgba(204,204,220,0.1)");
}

// ---- top row ----
panel(8, 10, 229, 180, "Queued");
sparkline(queued, [6.9, 67.1], [9, 236], [189, 128.3], 189, "#ff9830", d3.curveStepAfter);
statValue(122.5, 143, queuedLast, null, "#ff9830", 75);

panel(245, 10, 386, 180, "Downloaded");
sparkline(downloaded, [7, 67], [246, 620], [188, 116], 189, "#5794f2", d3.curveLinear);
statValue(438, 135, downloadedLast, null, "#5794f2", 49);

panel(639, 10, 387, 180, "Bytes Downloaded");
sparkline(bytesTB, [7, 67], [640, 1016], [188, 116], 189, "#b877d9", d3.curveLinear);
statValue(833, 129.5, bytesLast, bytesUnit, "#b877d9", 40, 23, 8);

panel(1034, 10, 228, 66, "Instances");
statValue(1148, 64, instancesNow, null, "#73bf69", 15);

panel(1034, 85, 228, 105, "Speed");
statValue(1149, 170, speedLast, speedUnit, "#f2495c", 46, 28, 9);

panel(1271, 10, 624, 180, "Instances");
const inst = timeChart({ t: [6.87, 67.1], y: [0, 64.6], left: 1303, right: 1878, top: 58.3, bottom: 136.7,
  labelX: 1299, xLabelY: 151.7, yTicks: instTicks, yLabels: instTicks.map(String), xTicks: ticks10, xLabels: ticks10Labels });
const instColors = ["#73bf69", "#fade2a", "#8ab8ff", "#ff780a"];
[instV5122, instV5130, instV5131, instV5132].forEach((s, i) => drawPairs(inst, s, instColors[i], d3.curveStepAfter));
const instLegendX = [1284.5, 1356, 1428, 1497];
instanceVersions.forEach((v, i) => {
  svg.append("rect").attr("x", instLegendX[i]).attr("y", 170.3).attr("width", 14).attr("height", 4).attr("rx", 1.5).attr("fill", instColors[i]);
  svg.append("text").attr("x", instLegendX[i] + 21).attr("y", 172.3).attr("dy", "0.35em")
    .attr("fill", TEXT).attr("font-size", 12).text(v);
});

// ---- Download Speed ----
panel(8, 200, 1887, 370, "Download Speed");
const ds = timeChart({ t: [7.05, 67.05], y: [0, 1500], left: 82.6, right: 1515, top: 248.8, bottom: 541,
  labelX: 76.5, xLabelY: 555.7, yTicks: speedTicks, yLabels: speedTickLabels, xTicks: ticks5, xLabels: ticks5Labels });
const speedColors = ["#8ab8ff", "#8f3a42", "#fade2a", "#ff780a", "#f2495c", "#73bf69"];
drawPairs(ds, dsTotal, speedColors[1], d3.curveStepAfter);
drawPairs(ds, dsBlue, speedColors[0], d3.curveStepAfter);
drawPairs(ds, dsGreen, speedColors[5], d3.curveStepAfter);
drawPairs(ds, dsYellow, speedColors[2], d3.curveStepAfter);
drawPairs(ds, dsOrange, speedColors[3], d3.curveStepAfter);
drawPairs(ds, dsRed, speedColors[4], d3.curveStepAfter);
legendTable({ lineX0: 1524, lineX1: 1886, headY: 250.7, underY: 263.3, rowY0: 274.5, pitch: 24,
  swatchX: 1532, nameX: 1554, colors: speedColors, names: speedNames,
  cols: [{ head: "Max", hx: 1793, vx: 1802, values: speedMax }, { head: "Last", hx: 1866, vx: 1878, values: speedLastCol, sort: 1870.5 }] });

// ---- CPU ----
panel(8, 580, 1887, 180, "CPU");
loadBar(150, 655, 580);
const cpu = timeChart({ t: [6.67, 66.75], y: [0, 140], left: 58, right: 1879, top: 628, bottom: 730.7,
  labelX: 52, xLabelY: 746.7, yTicks: cpuTicks, yLabels: cpuTickLabels, xTicks: ticks5, xLabels: ticks5Labels });
drawPairs(cpu, cpuGreen, "#73bf69", d3.curveMonotoneX);
drawPairs(cpu, cpuYellow, "#fade2a", d3.curveMonotoneX);
drawPairs(cpu, cpuOrange, "#ff780a", d3.curveMonotoneX);
drawPairs(cpu, cpuPurple, "#806eb7", d3.curveMonotoneX);
drawPairs(cpu, cpuCream, "#c8f2c2", d3.curveMonotoneX);
drawPairs(cpu, cpuBlue, "#8ab8ff", d3.curveMonotoneX);
drawPairs(cpu, cpuRed, "#f2495c", d3.curveLinear, 1.5);

// ---- Memory ----
panel(8, 770, 1254, 180, "Memory");
loadBar(235, 583, 770);
const mem = timeChart({ t: [6.77, 66.55], y: [0, 339], left: 74.5, right: 1243, top: 818.3, bottom: 921.7,
  labelX: 69, xLabelY: 937.3, yTicks: memTicks, yLabels: memTickLabels, xTicks: ticks5, xLabels: ticks5Labels });
const mono = d3.curveMonotoneX;
drawEven(mem, memDarkBlue, "#1f60c4", mono);
drawEven(mem, memDarkRed, "#8e1b26", mono);
drawEven(mem, memBandLavender, "#ca95e5", mono, 1.5);
drawEven(mem, memBandGold, "#ffb357", mono, 1.5);
drawEven(mem, memBandLime, "#96d98d", mono, 1.5);
drawEven(mem, memBandSky, "#8ab8ff", mono, 1.5);
drawEven(mem, memBandRose, "#ff7383", mono, 1.5);
drawEven(mem, memBandRed, "#e02f44", mono, 2);
drawEven(mem, memBandPurple, "#b877d9", mono, 1.5);
drawEven(mem, memBandOrange, "#ff9830", mono, 1.5);
drawEven(mem, memBandGreen, "#56a64b", mono, 1.5);
drawEven(mem, memBandBlue, "#5794f2", mono, 1.5);
drawEven(mem, memBandYellow, "#fade2a", mono, 2);
drawEven(mem, memBandPink, "#ffa6b0", mono, 2);
drawEven(mem, memBandTop, "#f4f5f5", mono, 2.5);
drawEven(mem, memRedLine, "#f2495c", mono);
drawEven(mem, memOrangeLine, "#ff780a", mono);
drawEven(mem, memPurpleFlat, "#806eb7", mono);
drawPairs(mem, memPurpleSpike, "#5b4894", mono);
drawPairs(mem, memLightBlue, "#8ab8ff", mono);
drawPairs(mem, memOrange, "#ff780a", mono);
drawPairs(mem, memWhite, "#e8eaea", mono);
drawPairs(mem, memGreen, "#73bf69", mono);
drawPairs(mem, memYellow, "#fade2a", mono);

panel(1271, 770, 624, 180, "Memory");
sparkline(memoryTotal, [7, 67], [1272, 1894], [948, 880], 949, "#fade2a", d3.curveLinear);
statValue(1583, 895, memoryLast, memoryUnit, "#fade2a", 53, 31, 11);

// ---- Endpoint Latency ----
panel(8, 960, 939, 409, "Endpoint Latency");
loadBar(327, 582, 960);
const lat = timeChart({ t: [6.73, 66.67], y: [15, 550], left: 71, right: 931, top: 1008.3, bottom: 1218.3,
  labelX: 64.8, xLabelY: 1227.7, yTicks: latTicks, yLabels: latTickLabels, xTicks: ticks5, xLabels: ticks5Labels });
drawPairs(lat, latRed, "#f2495c", d3.curveStepAfter);
drawPairs(lat, latVideo, "#fade2a", d3.curveStepAfter);
drawPairs(lat, latChannels, "#8ab8ff", d3.curveStepAfter);
drawPairs(lat, latCreator, "#73bf69", d3.curveStepAfter);
drawPairs(lat, latSubs, "#5794f2", d3.curveStepAfter);
drawPairs(lat, latDelivery, "#ff780a", d3.curveStepAfter);
legendTable({ lineX0: 17, lineX1: 939, headY: 1245, underY: 1257.3, rowY0: 1269.2, pitch: 23.7,
  swatchX: 25, nameX: 47.3, colors: ["#ff780a", "#5794f2", "#73bf69", "#8ab8ff", "#fade2a"], names: latNames, clipBottom: 1361,
  cols: [{ head: "Max", hx: 792, vx: 792, values: latMax }, { head: "Mean", hx: 864.5, vx: 871.5, values: latMean, sort: 869.6 },
         { head: "Min", hx: 930, vx: 930, values: latMin }] });

// ---- Endpoint Requests ----
panel(956, 960, 939, 409, "Endpoint Requests");
const req = timeChart({ t: [7.08, 67.07], y: [-0.44, 15.97], left: 1034.8, right: 1878.8, top: 1008.3, bottom: 1218.3,
  labelX: 1028.8, xLabelY: 1227.7, yTicks: reqTicks, yLabels: reqTickLabels, xTicks: ticks5, xLabels: ticks5Labels });
drawEven(req, reqLowGreen, "#73bf69");
drawEven(req, reqRed, "#f2495c");
drawEven(req, reqDarkPurple, "#806eb7");
drawEven(req, reqLowYellow, "#fade2a");
drawEven(req, reqPurple, "#b877d9");
drawEven(req, reqDelivery, "#ff780a");
drawPairs(req, reqVideo, "#fade2a");
drawEven(req, reqCreator, "#73bf69");
drawEven(req, reqSubs, "#5794f2");
drawEven(req, reqChannels, "#8ab8ff");
legendTable({ lineX0: 966, lineX1: 1886, headY: 1245, underY: 1257.3, rowY0: 1269.2, pitch: 23.7,
  swatchX: 973, nameX: 995, colors: ["#8ab8ff", "#5794f2", "#73bf69", "#fade2a", "#ff780a"], names: reqNames, clipBottom: 1361,
  cols: [{ head: "Max", hx: 1677.5, vx: 1703, values: reqMax }, { head: "Mean", hx: 1774, vx: 1791, values: reqMean, sort: 1780 },
         { head: "Min", hx: 1851, vx: 1878.8, values: reqMin }] });
</script>
</body>
</html>
